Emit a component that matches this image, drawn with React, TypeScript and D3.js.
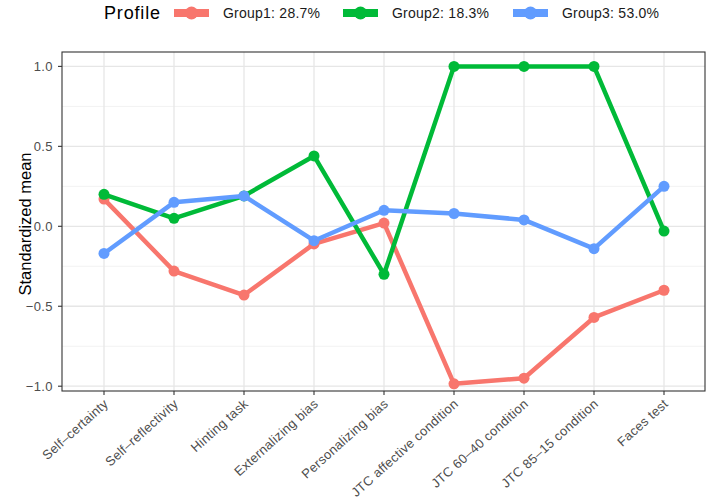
import React from "react";
import * as d3 from "d3";

const measures = [
  "Self-certainty",
  "Self-reflectivity",
  "Hinting task",
  "Externalizing bias",
  "Personalizing bias",
  "JTC affective condition",
  "JTC 60-40 condition",
  "JTC 85-15 condition",
  "Faces test",
];

const groupNames = ["Group1: 28.7%", "Group2: 18.3%", "Group3: 53.0%"];
const groupColors = ["#F8766D", "#00BA38", "#619CFF"];

const group1 = [0.17, -0.28, -0.43, -0.11, 0.02, -0.985, -0.95, -0.57, -0.4];
const group2 = [0.2, 0.05, 0.19, 0.44, -0.3, 1.0, 1.0, 1.0, -0.03];
const group3 = [-0.17, 0.15, 0.19, -0.09, 0.1, 0.08, 0.04, -0.14, 0.25];

const yTicks = [-1.0, -0.5, 0.0, 0.5, 1.0];
const yMinor = [-0.75, -0.25, 0.25, 0.75];

const W = 708;
const H = 504;
const left = 62;
const right = 705;
const top = 52;
const bottom = 391;

export default function App() {
  const series = [group1, group2, group3];

  const x = d3.scalePoint<string>().domain(measures).range([104, 664]);
  const y = d3.scaleLinear().domain([-1.03, 1.09]).range([bottom, top]);

  const line = d3
    .line<number>()
    .x((_, i) => x(measures[i]) as number)
    .y((d) => y(d));

  const font = "'Liberation Sans', Arial, sans-serif";
  const legendX = [174, 343, 513];

  return (
    <svg width={W} height={H} style={{ position: "absolute", left: 0, top: 0, background: "#fff" }}>
      {/* legend */}
      <text x={104} y={19} fontFamily={font} fontSize={18} textLength={56} fill="#000">Profile</text>
      {groupNames.map((g, i) => (
        <g key={g} transform={`translate(${legendX[i]},13)`}>
          <line x1={0} x2={35} y1={0} y2={0} stroke={groupColors[i]} strokeWidth={8} />
          <circle cx={17.5} cy={0} r={6.5} fill={groupColors[i]} />
          <text x={49} y={5} fontFamily={font} fontSize={14} textLength={97} fill="#1a1a1a">{g}</text>
        </g>
      ))}

      {/* grid */}
      {yMinor.map((v) => (
        <line key={"m" + v} x1={left} x2={right} y1={y(v)} y2={y(v)} stroke="#F2F2F2" strokeWidth={1} />
      ))}
      {yTicks.map((v) => (
        <line key={"g" + v} x1={left} x2={right} y1={y(v)} y2={y(v)} stroke="#E6E6E6" strokeWidth={1.3} />
      ))}
      {measures.map((m) => (
        <line key={"v" + m} x1={x(m)} x2={x(m)} y1={top} y2={bottom} stroke="#E6E6E6" strokeWidth={1.3} />
      ))}

      {/* series */}
      {series.map((s, i) => (
        <g key={i}>
          <path d={line(s) || ""} fill="none" stroke={groupColors[i]} strokeWidth={4.5} strokeLinejoin="round" />
          {s.map((v, j) => (
            <circle key={j} cx={x(measures[j])} cy={y(v)} r={5.5} fill={groupColors[i]} />
          ))}
        </g>
      ))}

      {/* panel border */}
      <rect x={left} y={top} width={right - left} height={bottom - top} fill="none" stroke="#333" strokeWidth={1.1} />

      {/* y axis */}
      {yTicks.map((v) => (
        <g key={"t" + v}>
          <line x1={left - 4} x2={left} y1={y(v)} y2={y(v)} stroke="#333" strokeWidth={1.1} />
          <text x={left - 9} y={y(v) + 4.5} textAnchor="end" fontFamily={font} fontSize={13} letterSpacing={0.4} fill="#4D4D4D">
            {v.toFixed(1).replace("-", "\u2212")}
          </text>
        </g>
      ))}
      <text
        transform={`translate(31,224) rotate(-90)`}
        textAnchor="middle"
        fontFamily={font}
        fontSize={17}
        textLength={143}
        lengthAdjust="spacingAndGlyphs"
        fill="#000"
      >
        Standardized mean
      </text>

      {/* x axis */}
      {measures.map((m) => (
        <g key={"x" + m}>
          <line x1={x(m)} x2={x(m)} y1={bottom} y2={bottom + 4} stroke="#333" strokeWidth={1.1} />
          <text
            transform={`translate(${(x(m) as number) + 5},${bottom + 14}) rotate(-42)`}
            textAnchor="end"
            fontFamily={font}
            fontSize={13}
            letterSpacing={0.3}
            fill="#4D4D4D"
          >
            {m.replace("-", "\u2013")}
          </text>
        </g>
      ))}
    </svg>
  );
}
